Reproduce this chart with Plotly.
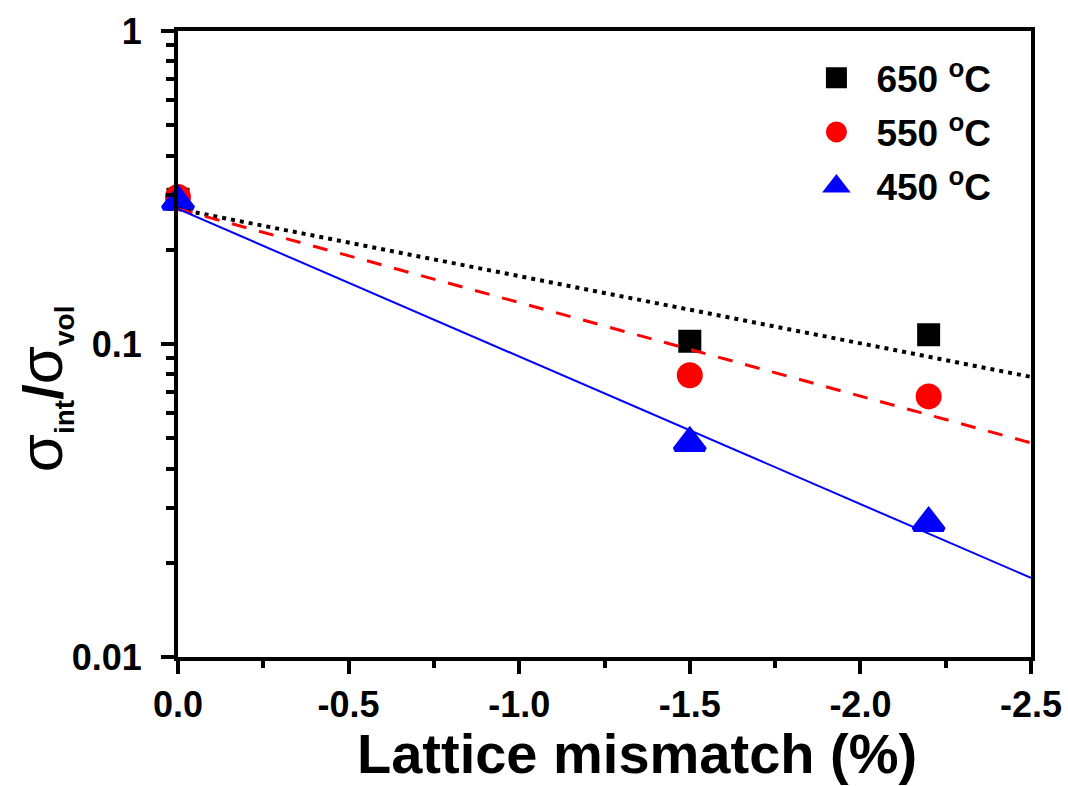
import plotly.graph_objects as go

# Measured points: lattice mismatch (%) vs sigma_int / sigma_vol
mismatch = [0.0, -1.5, -2.2]
ratio_650 = [0.29, 0.102, 0.107]
ratio_550 = [0.295, 0.0795, 0.068]
ratio_450 = [0.285, 0.0483, 0.0268]

# Exponential fit lines, evaluated at the ends of the x range
fit_x = [0.0, -2.5]
fit_650 = [0.27, 0.0785]
fit_550 = [0.27, 0.0483]
fit_450 = [0.27, 0.0179]

x_tickvals = [0.0, -0.5, -1.0, -1.5, -2.0, -2.5]
x_ticktext = ["0.0", "-0.5", "-1.0", "-1.5", "-2.0", "-2.5"]
y_tickvals = [0.01, 0.1, 1]
y_ticktext = ["0.01", "0.1", "1"]
y_minor = [0.02, 0.03, 0.04, 0.05, 0.06, 0.07, 0.08, 0.09,
           0.2, 0.3, 0.4, 0.5, 0.6, 0.7, 0.8, 0.9]

FONT = "Liberation Sans, Arial, sans-serif"
EDGE = 5  # marker outline width, same colour as fill (keeps legend symbols large)

fig = go.Figure()

fig.add_trace(go.Scatter(
    x=mismatch, y=ratio_650, mode="markers", name="650 <sup>o</sup>C",
    legendgroup="a", cliponaxis=False,
    marker=dict(symbol="square", size=18, color="black",
                line=dict(color="black", width=EDGE)),
))
fig.add_trace(go.Scatter(
    x=mismatch, y=ratio_550, mode="markers", name="550 <sup>o</sup>C",
    legendgroup="b", cliponaxis=False,
    marker=dict(symbol="circle", size=21, color="#ff0000",
                line=dict(color="#ff0000", width=EDGE)),
))
fig.add_trace(go.Scatter(
    x=mismatch, y=ratio_450, mode="markers", name="450 <sup>o</sup>C",
    legendgroup="c", cliponaxis=False,
    marker=dict(symbol="triangle-up", size=26, color="#0000ff",
                line=dict(color="#0000ff", width=EDGE)),
))

fig.add_trace(go.Scatter(
    x=fit_x, y=fit_650, mode="lines", showlegend=False, cliponaxis=False,
    line=dict(color="black", width=4, dash="4px,5px"),
))
fig.add_trace(go.Scatter(
    x=fit_x, y=fit_550, mode="lines", showlegend=False, cliponaxis=False,
    line=dict(color="#ff0000", width=3, dash="15px,13px"),
))
fig.add_trace(go.Scatter(
    x=fit_x, y=fit_450, mode="lines", showlegend=False, cliponaxis=False,
    line=dict(color="#0000ff", width=2),
))

# Axis titles as annotations so they can sit where the layout wants them
fig.add_annotation(
    text="Lattice mismatch (%)", xref="paper", yref="paper",
    x=0.538, y=-0.1535, xanchor="center", yanchor="middle", showarrow=False,
    font=dict(family=FONT, size=56, weight="bold", color="black"),
)
fig.add_annotation(
    text=("<span style='font-weight:normal;font-size:62px'>σ</span>"
          "<sub><span style='font-size:28px'>int</span></sub>/"
          "<span style='font-weight:normal;font-size:62px'>σ</span>"
          "<sub><span style='font-size:28px'>vol</span></sub>"),
    xref="paper", yref="paper", x=-0.158, y=0.428,
    xanchor="center", yanchor="middle", textangle=-90, showarrow=False,
    font=dict(family=FONT, size=56, weight="bold", color="black"),
)

fig.update_layout(
    width=1068, height=786,
    margin=dict(l=178, r=37, t=31, b=129, autoexpand=False),
    paper_bgcolor="white", plot_bgcolor="white",
    font=dict(family=FONT, color="black", size=36, weight="bold"),
    legend=dict(
        x=0.725, y=0.974, xanchor="left", yanchor="top",
        bgcolor="rgba(0,0,0,0)", borderwidth=0,
        font=dict(family=FONT, size=37, weight="bold"),
        itemwidth=70, traceorder="grouped", tracegroupgap=3,
    ),
    xaxis=dict(
        range=[0.0, -2.5], autorange=False,
        tickmode="array", tickvals=x_tickvals, ticktext=x_ticktext,
        ticks="outside", ticklen=13, tickwidth=4, tickcolor="black",
        minor=dict(dtick=0.25, tick0=0, ticks="outside", ticklen=7,
                   tickwidth=4, tickcolor="black"),
        showline=True, linewidth=4, linecolor="black", mirror=True,
        showgrid=False, zeroline=False,
        tickfont=dict(family=FONT, size=36, weight="bold"),
    ),
    yaxis=dict(
        type="log", range=[-2, 0], autorange=False,
        tickmode="array", tickvals=y_tickvals, ticktext=y_ticktext,
        ticks="outside", ticklen=13, tickwidth=4, tickcolor="black",
        ticklabelstandoff=12,
        minor=dict(tickmode="array", tickvals=y_minor, ticks="outside",
                   ticklen=8, tickwidth=4, tickcolor="black"),
        showline=True, linewidth=4, linecolor="black", mirror=True,
        showgrid=False, zeroline=False,
        tickfont=dict(family=FONT, size=36, weight="bold"),
    ),
)

fig.write_html("out.html")
